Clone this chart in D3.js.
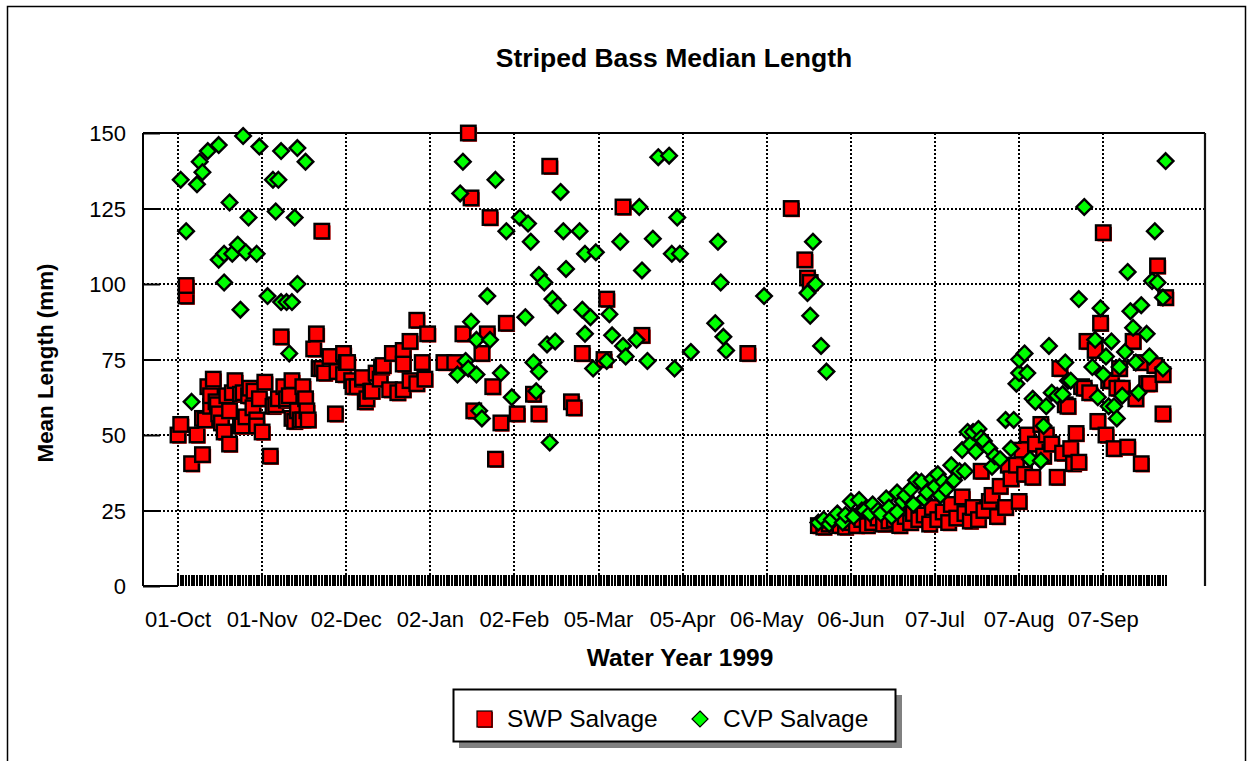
<!DOCTYPE html>
<html>
<head>
<meta charset="utf-8">
<script src="https://cdn.jsdelivr.net/npm/d3@7"></script>
<style>
  html, body { margin: 0; padding: 0; background: #fff; }
  svg { display: block; }
  text { font-family: "Liberation Sans", Arial, sans-serif; fill: #000; }
</style>
</head>
<body>
<svg id="chart" width="1251" height="761"></svg>
<script>
// ---------------- DATA ----------------
const chartTitle = "Striped Bass Median Length";
const xTitle = "Water Year 1999";
const yTitle = "Mean Length (mm)";
const seriesNames = ["SWP Salvage", "CVP Salvage"];

// x tick dates (labels are formatted from them as dd-Mon)
const xTickDates = ["1998-10-01","1998-11-01","1998-12-02","1999-01-02","1999-02-02","1999-03-05",
                    "1999-04-05","1999-05-06","1999-06-06","1999-07-07","1999-08-07","1999-09-07"];
const yTicks = [0, 25, 50, 75, 100, 125, 150];

// day of water year (0 = 01-Oct-1998) and length (mm)
const swpDay = [0,1,3,3,5,7,9,9,10,11,12,12,13,14,14.5,15,16,17,18,19,19,20,21,23,23,23.6,24,25,26,26.5,27.6,28,29,29,30,31,32,34,35,36,37,38,39,40,40,41,42,42,43,44,45,46,46,47,47.5,48,
  50,51,52,53,53,54,56,58,58.6,61,61,62,62.5,64,64.5,66,68,68,69,69.6,71,71.5,73,74.5,75,75.6,78,79,81,83,83,83,85.5,85.5,88,88,90,91,92,98,
  102,105,107,108,109,112,114,115,116,117,119,121,125,131,133,137,145,146,149,157,158,164,171,210,
  226,231,232,233,
  236,238,240,242,244,246,248,250,252,254,256,258,260,262,264,266,268,270,271,273,275,277,278,280,282,284,285,287,289,290,292,293,295,296,297,299,300,302,303,305,306,307,309,310,
  311,312,313,315,316,318,319,320,322,324,325,326,327,328,329,330,331,332,333,334,335,336,338,339,340,341,342,343,344,345,346,347,348,350,352,353,355,355,357,358,360,361,363,363,364];
const swpLen = [50,53.5,96,99.5,40.5,50,43.5,55.5,55,66,59.5,63,68.5,61,60,57,54,51,63,47,58,64,68,53,63.5,53,64,56,63,65.5,59,64.5,55,53,62,51,67.5,43,59.5,60,62,82.5,66,61.5,62,63,68,55.5,54.5,58,55,66,55,62,58,55,
  78.5,83.5,72,117.5,72,70.5,76,57,71,77,70,74,74,68,66,66,68.5,69,61,62,64.5,64.5,70.5,68.5,72.5,73,65,77,64,78,73.5,65,81,68,88,67,74,68.5,83.5,74,
  74,83.5,150,128.5,58,77,83.5,122,66,42,54,87,57,63.5,57,139,61,59,77,75,95,125.5,83,77,
  125,108,102,100.5,
  20,19.5,20.5,21,20,19.5,21,20,22,20,21,22.5,20.5,21.5,22,20,23,21,24,22,23.5,20.5,26,22,24.5,21,27,22.5,29.5,24,21.5,26,22,38,25,28,30,23,33,26,40,35.5,40,28,
  45,37,50,36,47,53.5,43,50,47,36,72,44,60,59.5,45.5,40.5,50.5,41,66,65.5,81,64,78,54.5,87,117,50,68,68,45.5,65.5,72,65.5,46,81,62,40.5,74,67,67,73,106,70,57,95.5];

const cvpDay = [1,3,5,7,8,9,11,15,15,17,17,19,20,22,23,24,25,26,29,30,33,35,37,36,38,38,40,41,42,43,44,44,47,
  103,104,105,106,107,108,110,110,111,112,114,115,117,119,121,123,126,128,129,130,131,132,133,133,135,136,137,138,139,140,141,142,143,148,149,150,150,152,153,154,158,159,160,163,164,165,169,170,171,173,175,177,181,182,183,184,185,189,198,199,200,201,202,216,232,233,234,235,237,239,
  236,238,240,241,243,245,246,248,249,251,252,253,255,256,258,259,261,262,263,265,265,267,268,270,271,272,274,275,276,278,279,280,281,282,283,285,286,288,289,290,291,292,293,294,295,296,297,299,300,301,303,305,307,308,
  309,310,310,312,313,314,315,316,318,319,320,321,322,324,326,327,328,329,332,334,337,338,339,340,341,342,343,344,345,346,347,348,349,350,351,352,353,354,355,357,358,359,360,361,363,363,364];
const cvpLen = [134.5,117.5,61,133,140.5,137,144,146,108,110,100.5,127,110,113,91.5,149,110.5,122,110,145.5,96,134.5,134.5,124,144,94,94,77,94,122,145,100,140.5,
  70,130,140.5,74.5,72,87.5,81.5,70,58,55.5,96,81.5,134.5,70.5,117.5,62.5,122,89,120,114,74,64.5,71,103,100.5,80,47.5,95,81,93,130.5,117.5,105,117.5,91.5,110,83.5,89,72,110.5,74.5,90,83,114,79.5,76,81.5,125.5,104.5,74.5,115,142,142.5,110,72,122,110,77.5,87,114,100.5,82.5,78,96,97,89.5,114,100,79.5,71,
  21,22,20.5,22,24,21,23.5,28,23,28.5,25,25,24,27,25,24,29,26,23,24.5,31,28,30,32,27,35,34.5,29,31,35.5,33,37,30,34.5,32,40,35,38,45,38,51,47,51,44.5,52,49,48,45.5,39.5,43,42,55,45.5,55,
  67,70.5,75,77,70.5,42,62,61,41.5,53,59.5,79.5,64,63,63.5,74,68,68,95,125.5,72.5,81.5,62.5,92,70,76,59.5,81,59.5,55.5,72.5,63,77.5,104,91,85.5,74,64,93,83.5,76,101,117.5,100.5,95.5,72,140.7];

// ---------------- LAYOUT ----------------
const svg = d3.select("#chart");
const plot = {left: 143, top: 133, right: 1205, bottom: 586};
const start = new Date(Date.UTC(1998, 9, 1));
const dayToDate = d => new Date(start.getTime() + d * 86400000);

const x = d3.scaleUtc()
  .domain([dayToDate(-12.9), dayToDate(378.5)])
  .range([plot.left, plot.right]);
const y = d3.scaleLinear().domain([0, 150]).range([plot.bottom, plot.top]);

const parse = d3.utcParse("%Y-%m-%d");
const fmt = d3.utcFormat("%d-%b");
const tickDates = xTickDates.map(parse);

// outer border
svg.append("rect").attr("x", 7.5).attr("y", 6.5).attr("width", 1238).attr("height", 780)
  .attr("fill", "none").attr("stroke", "#000").attr("stroke-width", 1.5);

// title
svg.append("text").attr("x", 674).attr("y", 67).attr("text-anchor", "middle")
  .attr("font-size", 26.5).attr("font-weight", "bold").text(chartTitle);

// grid
const grid = svg.append("g").attr("shape-rendering", "crispEdges");
grid.selectAll("line.h").data(yTicks.filter(v => v > 0 && v < 150)).join("line")
  .attr("x1", plot.left).attr("x2", plot.right)
  .attr("y1", d => Math.round(y(d))).attr("y2", d => Math.round(y(d)))
  .attr("stroke", "#000").attr("stroke-width", 2).attr("stroke-dasharray", "2,2");
grid.selectAll("line.v").data(tickDates).join("line")
  .attr("x1", d => Math.round(x(d))).attr("x2", d => Math.round(x(d)))
  .attr("y1", plot.top).attr("y2", plot.bottom)
  .attr("stroke", "#000").attr("stroke-width", 2).attr("stroke-dasharray", "2,2");

// frame
svg.append("line").attr("x1", plot.left).attr("x2", plot.right).attr("y1", plot.top).attr("y2", plot.top)
  .attr("stroke", "#000").attr("stroke-width", 2.2);
svg.append("line").attr("x1", plot.right).attr("x2", plot.right).attr("y1", plot.top).attr("y2", plot.bottom)
  .attr("stroke", "#111").attr("stroke-width", 2.2);
svg.append("line").attr("x1", plot.left).attr("x2", plot.left).attr("y1", plot.top).attr("y2", plot.bottom)
  .attr("stroke", "#000").attr("stroke-width", 2);
svg.append("line").attr("x1", plot.left).attr("x2", x(dayToDate(0))).attr("y1", plot.bottom).attr("y2", plot.bottom)
  .attr("stroke", "#000").attr("stroke-width", 2);

// y ticks (inside) + labels
const yAxis = d3.axisRight(y).tickValues(yTicks).tickSize(17).tickPadding(0).tickFormat("");
const ya = svg.append("g").attr("transform", `translate(${plot.left},0)`).call(yAxis);
ya.select(".domain").remove();
ya.selectAll(".tick line").attr("stroke", "#000").attr("stroke-width", 2);
svg.append("g").selectAll("text").data(yTicks).join("text")
  .attr("x", 126).attr("y", d => y(d) + 8).attr("text-anchor", "end")
  .attr("font-size", 22).text(d => d);

// daily minor ticks
const days = d3.utcDays(dayToDate(0), dayToDate(365));
svg.append("g").attr("shape-rendering", "crispEdges").selectAll("line").data(days).join("line")
  .attr("x1", d => x(d)).attr("x2", d => x(d))
  .attr("y1", plot.bottom - 11).attr("y2", plot.bottom)
  .attr("stroke", "#000").attr("stroke-width", 2);

// x tick labels
svg.append("g").selectAll("text").data(tickDates).join("text")
  .attr("x", d => x(d)).attr("y", 627).attr("text-anchor", "middle")
  .attr("font-size", 22).text(d => fmt(d));

// axis titles
svg.append("text").attr("x", 680).attr("y", 666).attr("text-anchor", "middle")
  .attr("font-size", 24.5).attr("font-weight", "bold").text(xTitle);
svg.append("text").attr("transform", "translate(53,363) rotate(-90)").attr("text-anchor", "middle")
  .attr("font-size", 22.4).attr("font-weight", "bold").text(yTitle);

// markers
const swp = swpDay.map((d, i) => ({date: dayToDate(d), v: swpLen[i]}));
const cvp = cvpDay.map((d, i) => ({date: dayToDate(d), v: cvpLen[i]}));
const sq = 14.5;
const gs = svg.append("g");
const swpG = gs.selectAll("g").data(swp).join("g")
  .attr("transform", d => `translate(${x(d.date)},${y(d.v)})`);
swpG.append("rect").attr("x", -sq/2 + 1.5).attr("y", -sq/2 + 1.5).attr("width", sq).attr("height", sq)
  .attr("fill", "#ff0000");
swpG.append("rect").attr("x", -sq/2).attr("y", -sq/2).attr("width", sq).attr("height", sq)
  .attr("fill", "#ff0000").attr("stroke", "#000").attr("stroke-width", 2.4);

const dia = "M0,-7.8L7.8,0L0,7.8L-7.8,0Z";
svg.append("g").selectAll("path").data(cvp).join("path")
  .attr("transform", d => `translate(${x(d.date)},${y(d.v)})`)
  .attr("d", dia).attr("fill", "#00ff00").attr("stroke", "#000").attr("stroke-width", 2.4);

// legend
const lg = svg.append("g");
lg.append("rect").attr("x", 459).attr("y", 695).attr("width", 443).attr("height", 53).attr("fill", "#808080");
lg.append("rect").attr("x", 453.5).attr("y", 689.5).attr("width", 442).attr("height", 52)
  .attr("fill", "#fff").attr("stroke", "#000").attr("stroke-width", 2);
lg.append("rect").attr("x", 478).attr("y", 712).attr("width", 15).attr("height", 16).attr("fill", "#ff0000");
lg.append("rect").attr("x", 477).attr("y", 711).attr("width", 15).attr("height", 16)
  .attr("fill", "#ff0000").attr("stroke", "#000").attr("stroke-width", 1.2);
lg.append("text").attr("x", 507).attr("y", 727).attr("font-size", 24.5).text(seriesNames[0]);
lg.append("path").attr("transform", "translate(700,719)").attr("d", "M0,-8L8,0L0,8L-8,0Z")
  .attr("fill", "#00ff00").attr("stroke", "#000").attr("stroke-width", 1.2);
lg.append("text").attr("x", 723).attr("y", 727).attr("font-size", 24.5).text(seriesNames[1]);
</script>
</body>
</html>
